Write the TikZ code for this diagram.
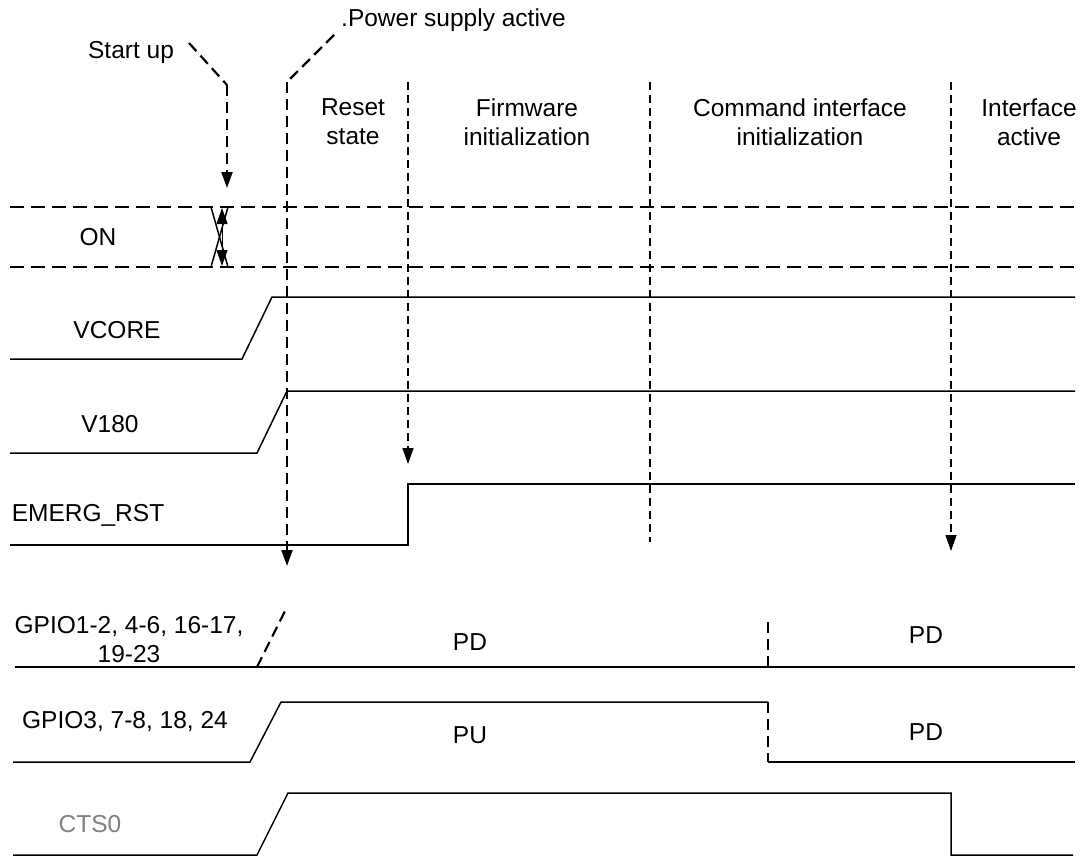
\documentclass[tikz,border=0pt]{standalone}
\usepackage{fontspec}
\setmainfont{Liberation Sans}
\usetikzlibrary{arrows.meta}
\begin{document}
\begin{tikzpicture}[x=1pt,y=-1pt,
  txt/.style={font=\fontsize{24.5}{29}\selectfont,align=center,inner sep=0pt},
  sig/.style={line width=1.5pt,line join=miter},
  thickdash/.style={line width=2.2pt,dash pattern=on 11pt off 6pt},
  ondash/.style={line width=2.2pt,dash pattern=on 14pt off 7pt},
  thindash/.style={line width=1.3pt,dash pattern=on 8pt off 5pt},
  tip/.style={-{Triangle[length=16pt,width=11pt]}}]
\useasboundingbox (0,0) rectangle (1082,857);
% labels
\node[txt] (startup) at (131,52) {Start up};
\node[txt,anchor=west] (power) at (341,20) {.Power supply active};
\node[txt] (reset) at (353,122) {Reset\\state};
\node[txt] (fw) at (527,122) {Firmware\\initialization};
\node[txt] (cmd) at (800,122) {Command interface\\initialization};
\node[txt] (act) at (1029,122) {Interface\\active};
\node[txt] (on) at (98,237) {ON};
\node[txt] (vcore) at (117,330) {VCORE};
\node[txt] (v180) at (110,424) {V180};
\node[txt] (emerg) at (88,515) {EMERG\_RST};
\node[txt] (gpioa) at (129,640) {GPIO1-2, 4-6, 16-17,\\19-23};
\node[txt] (gpiob) at (125,722) {GPIO3, 7-8, 18, 24};
\node[txt,text=black!50] (cts) at (90,824) {CTS0};
\node[txt] (pda) at (470,642) {PD};
\node[txt] (pdb) at (926,635) {PD};
\node[txt] (pu) at (470,735) {PU};
\node[txt] (pdc) at (926,732) {PD};
% leader coordinates
\coordinate (su1) at (189,43);
\coordinate (su2) at (227,85);
\coordinate (su3) at (227,188);
\coordinate (ps1) at (334,35);
\coordinate (ps2) at (287,82);
\coordinate (ps3) at (287,566);
\draw[thickdash] (su1) -- (su2);
\draw[thickdash,tip] (su2) -- (su3);
\draw[thickdash] (ps1) -- (ps2);
\draw[thickdash,tip] (ps2) -- (ps3);
% phase dividers
\coordinate (d1a) at (408,82); \coordinate (d1b) at (408,464);
\coordinate (d2a) at (650,82); \coordinate (d2b) at (650,542);
\coordinate (d3a) at (951,82); \coordinate (d3b) at (951,551);
\draw[thindash,tip] (d1a) -- (d1b);
\draw[thindash] (d2a) -- (d2b);
\draw[thindash,tip] (d3a) -- (d3b);
% ON
\draw[ondash] (10,207) -- (1075,207);
\draw[ondash] (10,267) -- (1075,267);
\draw[line width=1.5pt] (211,207) -- (228,267);
\draw[line width=1.5pt] (211,267) -- (228,207);
\draw[{Triangle[length=16pt,width=11pt]}-{Triangle[length=16pt,width=11pt]},line width=1pt] (222,208) -- (222,266);
% VCORE
\draw[sig] (10,359) -- (242,359) -- (272,297) -- (1075,297);
% V180
\draw[sig] (10,453) -- (257,453) -- (287,391) -- (1075,391);
% EMERG_RST
\draw[sig] (10,545) -- (408,545) -- (408,484) -- (1075,484);
% GPIO1-2
\draw[sig] (15,667) -- (1075,667);
\draw[thickdash] (257,667) -- (287,607);
\draw[thickdash] (768,667) -- (768,618);
% GPIO3
\draw[sig] (13,762) -- (250,762) -- (281,702) -- (768,702);
\draw[thickdash] (768,702) -- (768,762);
\draw[sig] (768,762) -- (1075,762);
% CTS0
\draw[sig] (13,855) -- (257,855) -- (288,793) -- (951,793) -- (951,855) -- (1073,855);
\end{tikzpicture}
\end{document}
